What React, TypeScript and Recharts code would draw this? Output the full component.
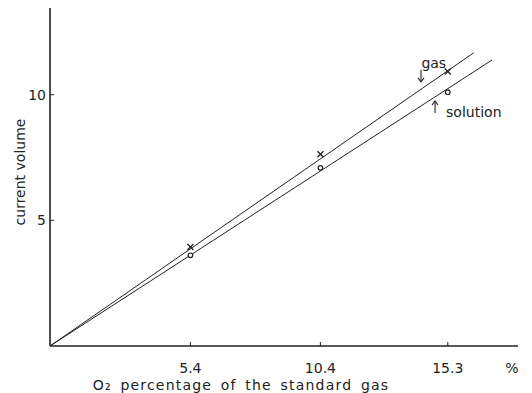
import { ComposedChart, Line, Scatter, XAxis, YAxis, ReferenceDot, Label } from "recharts";

// measured points at each standard O2 percentage
const percentages = [5.4, 10.4, 15.3];
const gasValues = [3.94, 7.63, 10.92];
const solutionValues = [3.61, 7.09, 10.1];

// ends of the two fitted lines (both start at the origin)
const gasFitX = [0, 16.3];
const gasFitY = [0, 11.67];
const solutionFitX = [0, 17.0];
const solutionFitY = [0, 11.38];

const xTicks = [5.4, 10.4, 15.3, 18];
const xTickLabels = ["5.4", "10.4", "15.3", "%"];
const yTicks = [5, 10];

const FONT = "DejaVu Sans";
const INK = "#222";

const gasPoints = percentages.map((x, i) => ({ x, y: gasValues[i] }));
const solutionPoints = percentages.map((x, i) => ({ x, y: solutionValues[i] }));
const gasFit = gasFitX.map((x, i) => ({ x, y: gasFitY[i] }));
const solutionFit = solutionFitX.map((x, i) => ({ x, y: solutionFitY[i] }));

const Cross = (props: any) => {
  const { cx, cy } = props;
  return (
    <g stroke={INK} strokeWidth={1.3}>
      <line x1={cx - 3} y1={cy - 3} x2={cx + 3} y2={cy + 3} />
      <line x1={cx - 3} y1={cy + 3} x2={cx + 3} y2={cy - 3} />
    </g>
  );
};

const Ring = (props: any) => {
  const { cx, cy } = props;
  return <circle cx={cx} cy={cy} r={2.3} fill="#fff" stroke={INK} strokeWidth={1.2} />;
};

const XTick = (props: any) => {
  const { x, y, payload, index } = props;
  const isUnit = payload.value === 18;
  return (
    <g>
      {!isUnit && <line x1={x} y1={y} x2={x} y2={y - 4} stroke={INK} />}
      <text x={isUnit ? x - 6 : x} y={y + 27} textAnchor="middle" fontFamily={FONT} fontSize={14} fill={INK}>
        {xTickLabels[index]}
      </text>
    </g>
  );
};

const YTick = (props: any) => {
  const { x, y, payload } = props;
  return (
    <g>
      <line x1={x} y1={y} x2={x + 4} y2={y} stroke={INK} />
      <text x={x - 4} y={y + 5} textAnchor="end" fontFamily={FONT} fontSize={14} fill={INK}>
        {payload.value}
      </text>
    </g>
  );
};

// small hand-drawn style arrow, pointing down or up from the anchor point
const arrow = (down: boolean) => (props: any) => {
  const { viewBox } = props;
  const x = viewBox.x;
  const y = viewBox.y;
  const tip = down ? y + 6 : y - 6;
  const tail = down ? y - 6 : y + 6;
  const wing = down ? tip - 4 : tip + 4;
  return (
    <g stroke={INK} strokeWidth={1.1} fill="none">
      <line x1={x} y1={tail} x2={x} y2={tip} />
      <polyline points={`${x - 3},${wing} ${x},${tip} ${x + 3},${wing}`} />
    </g>
  );
};

const note = (value: string) => ({
  value,
  position: "center" as const,
  fontFamily: FONT,
  fontSize: 14,
  fill: INK,
});

export default function App() {
  return (
    <div style={{ position: "absolute", left: 0, top: 0, background: "#fff" }}>
      <ComposedChart width={532} height={393} margin={{ top: 8, right: 14, bottom: 17, left: 0 }}>
        <XAxis
          type="number"
          dataKey="x"
          height={30}
          domain={[0, 18]}
          ticks={xTicks}
          tickSize={0}
          tickMargin={0}
          tickLine={false}
          tick={<XTick />}
          axisLine={{ stroke: INK, strokeWidth: 1.6 }}
          allowDataOverflow
        >
          <Label value="O₂ percentage of the standard gas" position="insideBottom" offset={-14} dx={-43}
            style={{ fontFamily: FONT, fontSize: 14, fill: INK, letterSpacing: 1.2, wordSpacing: 3 }} />
        </XAxis>
        <YAxis
          type="number"
          dataKey="y"
          width={50}
          domain={[0, 13.45]}
          ticks={yTicks}
          tickSize={0}
          tickMargin={0}
          tickLine={false}
          tick={<YTick />}
          axisLine={{ stroke: INK, strokeWidth: 1.6 }}
          allowDataOverflow
        >
          <Label value="current volume" angle={-90} position="insideLeft" offset={20}
            style={{ fontFamily: FONT, fontSize: 14, fill: INK, textAnchor: "middle" }} dy={-5} />
        </YAxis>
        <Line data={gasFit} dataKey="y" stroke={INK} strokeWidth={1} dot={false} isAnimationActive={false} />
        <Line data={solutionFit} dataKey="y" stroke={INK} strokeWidth={1} dot={false} isAnimationActive={false} />
        <Scatter data={gasPoints} dataKey="y" shape={<Cross />} isAnimationActive={false} />
        <Scatter data={solutionPoints} dataKey="y" shape={<Ring />} isAnimationActive={false} />
        <ReferenceDot x={14.76} y={11.26} r={0} label={note("gas")} />
        <ReferenceDot x={14.27} y={10.75} r={0} label={{ content: arrow(true) }} />
        <ReferenceDot x={14.81} y={9.51} r={0} label={{ content: arrow(false) }} />
        <ReferenceDot x={16.3} y={9.31} r={0} label={note("solution")} />
      </ComposedChart>
    </div>
  );
}
